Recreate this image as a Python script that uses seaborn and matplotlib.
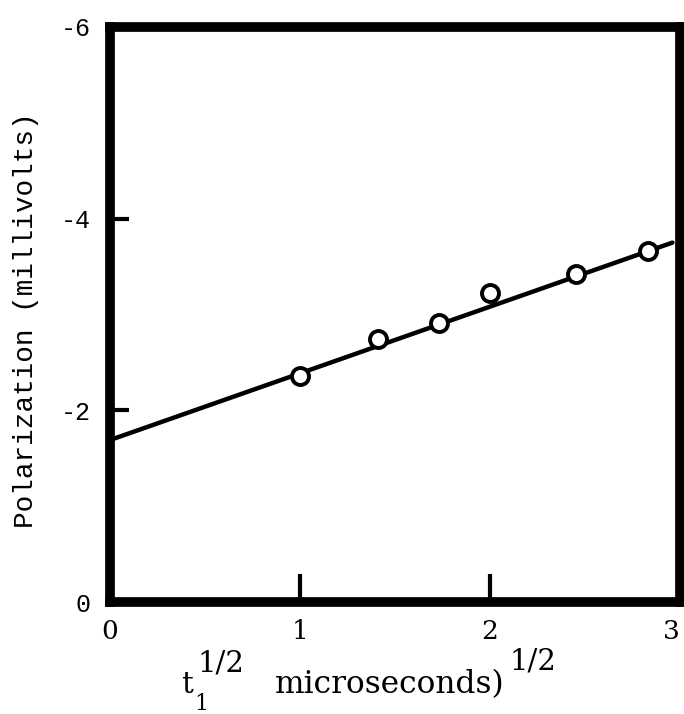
import matplotlib
matplotlib.use("Agg")
import matplotlib.pyplot as plt
import seaborn as sns
import pandas as pd

# Data
sqrt_t = [1.0, 1.41, 1.73, 2.0, 2.45, 2.83]
polarization = [-2.36, -2.74, -2.91, -3.22, -3.42, -3.66]
fit_x = [0.0, 2.96]
fit_y = [-1.69, -3.75]
xticks = [0, 1, 2, 3]
yticks = [0, -2, -4, -6]

sns.set_theme(style="white")
plt.rcParams.update({
    "text.color": "black",
    "axes.labelcolor": "black",
    "xtick.color": "black",
    "ytick.color": "black",
})

W, H = 684, 714
fig = plt.figure(figsize=(W / 100, H / 100), dpi=100)
ax = fig.add_axes([110 / W, 1 - 602 / H, 570 / W, 575 / H])

pts = pd.DataFrame({"x": sqrt_t, "y": polarization})
fit = pd.DataFrame({"x": fit_x, "y": fit_y})

sns.lineplot(data=fit, x="x", y="y", ax=ax, color="black", linewidth=3.2)
sns.scatterplot(data=pts, x="x", y="y", ax=ax, s=150, marker="o",
                facecolor="white", edgecolor="black", linewidth=2.8, zorder=5)

ax.set_xlim(0, 3)
ax.set_ylim(0, -6)

for sp in ax.spines.values():
    sp.set_linewidth(7)
    sp.set_color("black")
    sp.set_capstyle("projecting")

ax.set_xticks(xticks)
ax.set_yticks(yticks)
ax.set_xticklabels([str(v) for v in xticks])
ax.set_yticklabels([str(v) for v in yticks])
ax.tick_params(axis="x", direction="in", length=20, width=3, pad=12,
               labelsize=19, bottom=True)
ax.tick_params(axis="y", direction="in", length=14, width=3, pad=14,
               labelsize=18, left=True)
for lab in ax.get_xticklabels():
    lab.set_fontfamily("DejaVu Serif")
ax.get_xticklabels()[-1].set_horizontalalignment("right")
for lab in ax.get_yticklabels():
    lab.set_fontfamily("Liberation Mono")

ax.set_xlabel("")
ax.set_ylabel("Polarization (millivolts)", family="Liberation Mono", fontsize=20)
ax.yaxis.set_label_coords(-0.125, 0.49)


def ftext(px, py, s, size, **kw):
    fig.text(px / W, 1 - py / H, s, fontsize=size, family="DejaVu Serif",
             va="baseline", ha="left", **kw)


# x-axis label composed from pieces
ftext(181, 693, "t", 21)
ftext(194, 710, "1", 16)
ftext(197, 672, "1/2", 21)
ftext(275, 693, "microseconds)", 22.5)
ftext(509, 669, "1/2", 21)

fig.savefig("out.png", dpi=100)
